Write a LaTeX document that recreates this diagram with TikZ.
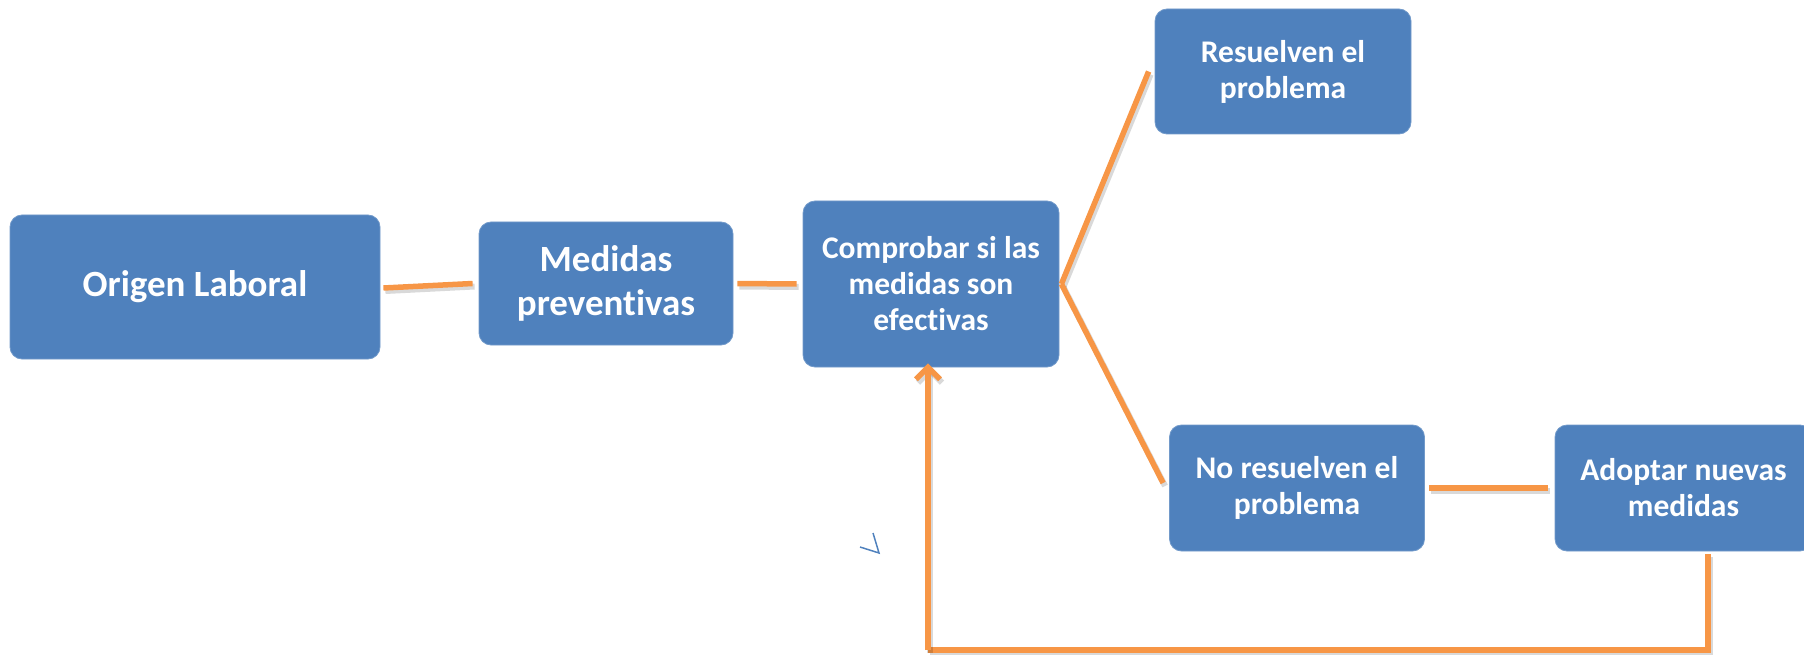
\documentclass[tikz,border=0pt]{standalone}
\usepackage{fontspec}
\setmainfont{Carlito}[Ligatures=NoCommon]
\usetikzlibrary{arrows.meta,calc}
\definecolor{boxblue}{HTML}{4F81BD}
\definecolor{lineorange}{HTML}{F79646}
\begin{document}
\begin{tikzpicture}[x=1pt,y=-1pt,
  box/.style={rectangle, rounded corners=12pt, fill=boxblue, draw=boxblue!80!white, line width=0.8pt,
    text=white, align=center, inner sep=0pt, anchor=center},
  big/.style={font=\fontsize{37}{44}\selectfont\bfseries},
  small/.style={font=\fontsize{31.5}{36}\selectfont\bfseries},
  conn/.style={draw=lineorange, line width=5.5pt,
    preaction={draw=black, opacity=0.15, line width=6pt, transform canvas={shift={(2pt,-3pt)}}}},
  markline/.style={draw=boxblue, line width=1.5pt}]
\useasboundingbox (0,0) rectangle (1804,655);

\node[box,big,minimum width=370pt,minimum height=144pt] (o) at (195,287) {Origen Laboral};
\node[box,big,minimum width=254pt,minimum height=123pt] (m) at (606,283.5) {Medidas\\preventivas};
\node[box,small,minimum width=256pt,minimum height=166pt] (c) at (931,284) {Comprobar si las\\medidas son\\efectivas};
\node[box,small,minimum width=256pt,minimum height=125pt] (r) at (1283,71.5) {Resuelven el\\problema};
\node[box,small,minimum width=255pt,minimum height=126pt] (n) at (1297,488) {No resuelven el\\problema};
\node[box,small,minimum width=257pt,minimum height=126pt] (a) at (1683.5,488) {Adoptar nuevas\\medidas};

\coordinate (fbr) at (1708,650);
\coordinate (fbl) at (928,650);

\draw[conn] ($(o.east)+(3,1)$) -- ($(m.west)+(-6,0)$);
\draw[conn] ($(m.east)+(4,0)$) -- ($(c.west)+(-6,0)$);
\draw[conn] ($(c.east)+(2,0)$) -- ($(r.west)+(-6,0)$);
\draw[conn] ($(c.east)+(2,0)$) -- ($(n.west)+(-6,-5)$);
\draw[conn] ($(n.east)+(4,0)$) -- ($(a.west)+(-7,0)$);
\draw[conn] ($(a.south)+(24.5,3)$) -- (fbr) -- (fbl);
\draw[conn,-{Straight Barb[length=12pt,width=24pt]}] (fbl) -- ($(c.south)+(-3,-4)$);

\draw[markline] (860,547) -- (879,553) -- (873,533);
\end{tikzpicture}
\end{document}
